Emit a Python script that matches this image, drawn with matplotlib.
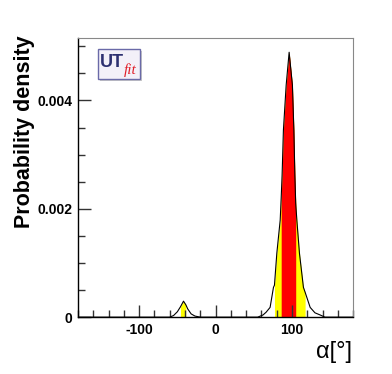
import numpy as np
import matplotlib
matplotlib.use('Agg')
import matplotlib.pyplot as plt
from matplotlib.patches import FancyBboxPatch
from matplotlib.ticker import MultipleLocator

# density of alpha (degrees, probability density)
alpha = np.array([-180, -60, -55, -50, -47.8, -46, -42, -39, -36.4, -32, -27, -20,
                  55, 62, 66, 71.3, 75.7, 77, 80.1, 84.5, 85.8, 87.0, 88.7, 92.3,
                  96.2, 100.5, 102.4, 103.7, 104.8, 106.3, 109.7, 114.9, 117.1,
                  123.7, 130, 136.8, 143, 180])
density = np.array([0, 0, 0.00003, 0.00010, 0.00015, 0.00019, 0.000295, 0.00023,
                    0.00015, 0.00006, 0.00002, 0,
                    0, 0.00004, 0.00009, 0.00018, 0.00055, 0.00059, 0.00118,
                    0.00179, 0.0022, 0.00262, 0.00345, 0.00428,
                    0.00489, 0.00428, 0.00345, 0.00262, 0.0021, 0.00179, 0.00118,
                    0.00055, 0.00046,
                    0.00018, 0.00008, 0.00004, 0, 0])

# probability regions
yellow_ranges = [(-46, -39), (77, 117.1)]
red_ranges = [(85.8, 104.8)]

fig = plt.figure(figsize=(3.92, 3.74), dpi=100)
ax = fig.add_axes([0.199, 0.152, 0.702, 0.746])

for lo, hi in yellow_ranges:
    m = (alpha >= lo) & (alpha <= hi)
    ax.fill_between(alpha[m], density[m], 0, color='#ffff00', lw=0)
for lo, hi in red_ranges:
    m = (alpha >= lo) & (alpha <= hi)
    ax.fill_between(alpha[m], density[m], 0, color='#ff0000', lw=0)
ax.plot(alpha, density, color='black', lw=0.8)

ax.set_xlim(-180, 180)
ax.set_ylim(0, 0.00515)

ax.xaxis.set_major_locator(MultipleLocator(100))
ax.xaxis.set_minor_locator(MultipleLocator(20))
ax.yaxis.set_major_locator(MultipleLocator(0.002))
ax.yaxis.set_minor_locator(MultipleLocator(0.0005))
ax.tick_params(which='both', direction='in', top=False, right=False, width=1, color='#333333')
ax.tick_params(which='major', length=9, pad=4)
ax.tick_params(which='minor', length=5)
ax.set_xticks([-100, 0, 100])
ax.set_xticklabels(['-100', '0', '100'], fontsize=10, fontweight='bold', family='Liberation Sans')
ax.set_yticks([0, 0.002, 0.004])
ax.set_yticklabels(['0', '0.002', '0.004'], fontsize=10, fontweight='bold', family='Liberation Sans')

for s in ['top', 'right']:
    ax.spines[s].set_color('#888888')
    ax.spines[s].set_linewidth(0.8)
for s in ['left', 'bottom']:
    ax.spines[s].set_linewidth(1.0)

fig.text(0.062, 0.648, 'Probability density', rotation=90, ha='center', va='center',
         fontsize=15.5, fontweight='bold', family='Liberation Sans')
fig.text(0.898, 0.059, 'α[°]', ha='right', va='center',
         fontsize=17, family='Liberation Sans')

# UTfit logo
logo = FancyBboxPatch((0.250, 0.789), 0.107, 0.080, boxstyle='square,pad=0',
                      transform=fig.transFigure, facecolor='#f3f0f8',
                      edgecolor='#6a6aa8', lw=1.0)
shadow = FancyBboxPatch((0.254, 0.783), 0.107, 0.080, boxstyle='square,pad=0',
                        transform=fig.transFigure, facecolor='#c8c8c8',
                        edgecolor='none')
fig.patches.extend([shadow, logo])
fig.text(0.254, 0.834, 'UT', fontsize=13, fontweight='bold', color='#2d3070',
         family='Liberation Sans', va='center')
fig.text(0.316, 0.812, 'fit', fontsize=11, style='italic', color='#e0202a',
         family='Liberation Serif', va='center')

fig.savefig('out.png', dpi=100)
